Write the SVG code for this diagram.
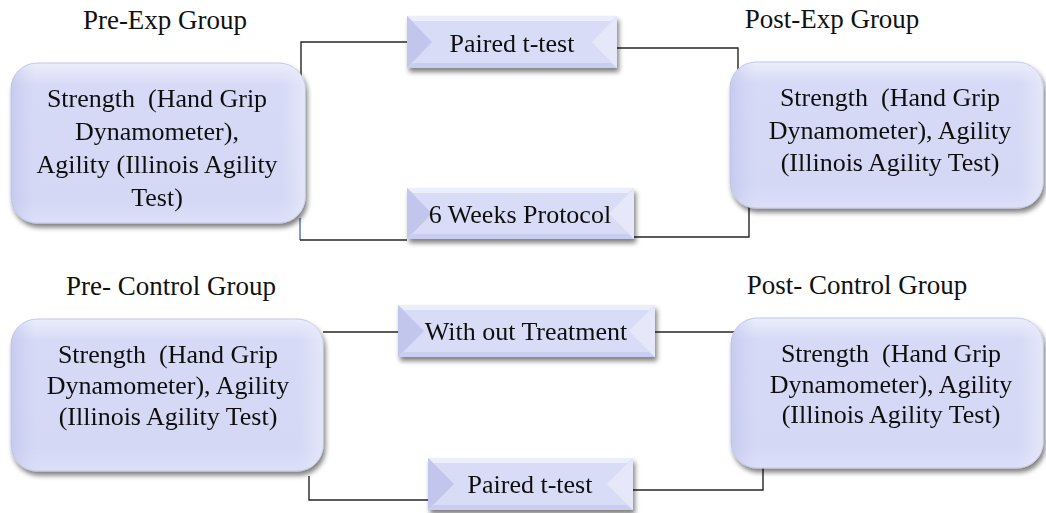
<svg xmlns="http://www.w3.org/2000/svg" width="1046" height="513" viewBox="0 0 1046 513">
<defs>
<linearGradient id="gRound" x1="0" y1="0" x2="0" y2="1">
<stop offset="0" stop-color="#eceefc"/>
<stop offset="0.14" stop-color="#d7daf6"/>
<stop offset="0.85" stop-color="#d4d8f5"/>
<stop offset="1" stop-color="#dcdff8"/>
</linearGradient>
<linearGradient id="gSide" x1="0" y1="0" x2="1" y2="0">
<stop offset="0" stop-color="#b9bde6" stop-opacity="0.55"/>
<stop offset="0.08" stop-color="#c9cdf1" stop-opacity="0"/>
<stop offset="0.92" stop-color="#e8eafb" stop-opacity="0"/>
<stop offset="1" stop-color="#eef0fc" stop-opacity="0.6"/>
</linearGradient>
<filter id="shadow" x="-10%" y="-10%" width="125%" height="135%">
<feGaussianBlur in="SourceAlpha" stdDeviation="2.5"/>
<feOffset dx="2" dy="4" result="b"/>
<feComponentTransfer><feFuncA type="linear" slope="0.5"/></feComponentTransfer>
<feMerge><feMergeNode/><feMergeNode in="SourceGraphic"/></feMerge>
</filter>
</defs>
<style>
text{font-family:"Liberation Serif","Times New Roman",serif;font-size:26px;fill:#111;text-anchor:middle}
.lbl{font-size:27px}
.rb{fill:url(#gRound);stroke:#c4c8e4;stroke-width:1}
.rs{fill:url(#gSide)}
.bv{fill:#d9dcf6}
.bl{fill:#c2c6ec}
.br{fill:#e6e8fa}
.bt{fill:#eceefb}
.bb{fill:#c9cdef}
.conn{fill:none;stroke:#262626;stroke-width:1.4}
</style>

<g id="pre-exp-label"><text class="lbl" x="165" y="29">Pre-Exp Group</text></g>
<g id="post-exp-label"><text class="lbl" x="832" y="28">Post-Exp Group</text></g>
<g id="pre-control-label"><text class="lbl" x="171" y="295">Pre- Control Group</text></g>
<g id="post-control-label"><text class="lbl" x="857" y="294">Post- Control Group</text></g>

<g id="connectors">
<path class="conn" d="M301,77 V42 H407"/>
<path class="conn" d="M617,48 H738 V75"/>
<path class="conn" d="M300,218 V240" style="stroke:#4f6fb8"/>
<path class="conn" d="M300,240 H407"/>
<path class="conn" d="M634,237 H749 V207"/>
<path class="conn" d="M323,332 H398"/>
<path class="conn" d="M655,332 H735"/>
<path class="conn" d="M309,476 V500 H428"/>
<path class="conn" d="M633,490 H763 V466"/>
</g>

<g id="pre-exp-box" filter="url(#shadow)">
<rect class="rb" x="11" y="63" width="294" height="160" rx="26"/>
<rect class="rs" x="11" y="63" width="294" height="160" rx="26"/>
<text x="157" y="107">Strength&#160; (Hand Grip</text>
<text x="157" y="140">Dynamometer),</text>
<text x="157" y="173">Agility (Illinois Agility</text>
<text x="157" y="206">Test)</text>
</g>

<g id="post-exp-box" filter="url(#shadow)">
<rect class="rb" x="730" y="62" width="313" height="146" rx="26"/>
<rect class="rs" x="730" y="62" width="313" height="146" rx="26"/>
<text x="890" y="106">Strength&#160; (Hand Grip</text>
<text x="890" y="139">Dynamometer), Agility</text>
<text x="890" y="171">(Illinois Agility Test)</text>
</g>

<g id="pre-control-box" filter="url(#shadow)">
<rect class="rb" x="11" y="319" width="312" height="152" rx="26"/>
<rect class="rs" x="11" y="319" width="312" height="152" rx="26"/>
<text x="168" y="363">Strength&#160; (Hand Grip</text>
<text x="168" y="394">Dynamometer), Agility</text>
<text x="168" y="425">(Illinois Agility Test)</text>
</g>

<g id="post-control-box" filter="url(#shadow)">
<rect class="rb" x="731" y="318" width="312" height="150" rx="26"/>
<rect class="rs" x="731" y="318" width="312" height="150" rx="26"/>
<text x="891" y="362">Strength&#160; (Hand Grip</text>
<text x="891" y="393">Dynamometer), Agility</text>
<text x="891" y="423">(Illinois Agility Test)</text>
</g>

<g id="paired-top" filter="url(#shadow)">
<rect class="bv" x="407" y="16" width="210" height="52"/>
<polygon class="bt" points="407,16 617,16 611,21 413,21"/>
<polygon class="bb" points="407,68 617,68 611,63 413,63"/>
<polygon class="bl" points="407,16 432,42 407,68"/>
<polygon class="br" points="617,16 592,42 617,68"/>
<text x="512" y="52">Paired t-test</text>
</g>

<g id="six-weeks" filter="url(#shadow)">
<rect class="bv" x="407" y="188" width="227" height="51"/>
<polygon class="bt" points="407,188 634,188 628,193 413,193"/>
<polygon class="bb" points="407,239 634,239 628,234 413,234"/>
<polygon class="bl" points="407,188 432,213.5 407,239"/>
<polygon class="br" points="634,188 609,213.5 634,239"/>
<text x="520" y="223">6 Weeks Protocol</text>
</g>

<g id="without-treatment" filter="url(#shadow)">
<rect class="bv" x="398" y="305" width="257" height="52"/>
<polygon class="bt" points="398,305 655,305 649,310 404,310"/>
<polygon class="bb" points="398,357 655,357 649,352 404,352"/>
<polygon class="bl" points="398,305 424,331 398,357"/>
<polygon class="br" points="655,305 629,331 655,357"/>
<text x="526" y="340">With out Treatment</text>
</g>

<g id="paired-bottom" filter="url(#shadow)">
<rect class="bv" x="428" y="458" width="205" height="52"/>
<polygon class="bt" points="428,458 633,458 627,463 434,463"/>
<polygon class="bb" points="428,510 633,510 627,505 434,505"/>
<polygon class="bl" points="428,458 454,484 428,510"/>
<polygon class="br" points="633,458 607,484 633,510"/>
<text x="530" y="493">Paired t-test</text>
</g>
</svg>
